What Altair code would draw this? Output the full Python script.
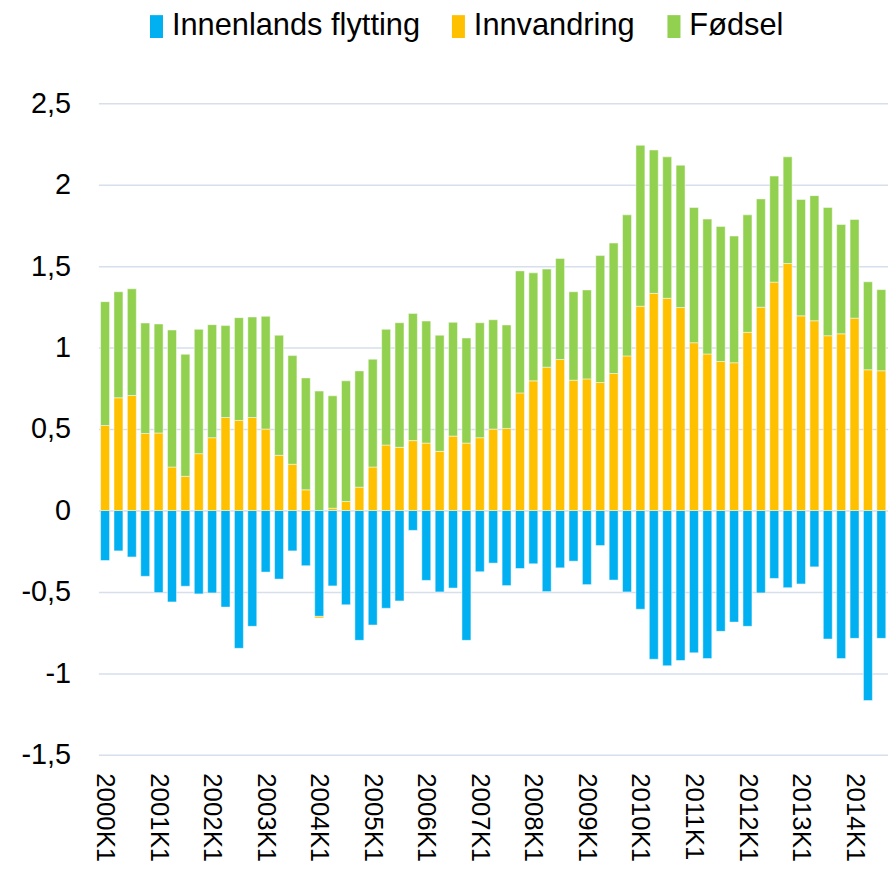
import altair as alt
import pandas as pd

quarters = [
    "2000K1", "2000K2", "2000K3", "2000K4", "2001K1", "2001K2", "2001K3", "2001K4",
    "2002K1", "2002K2", "2002K3", "2002K4", "2003K1", "2003K2", "2003K3", "2003K4",
    "2004K1", "2004K2", "2004K3", "2004K4", "2005K1", "2005K2", "2005K3", "2005K4",
    "2006K1", "2006K2", "2006K3", "2006K4", "2007K1", "2007K2", "2007K3", "2007K4",
    "2008K1", "2008K2", "2008K3", "2008K4", "2009K1", "2009K2", "2009K3", "2009K4",
    "2010K1", "2010K2", "2010K3", "2010K4", "2011K1", "2011K2", "2011K3", "2011K4",
    "2012K1", "2012K2", "2012K3", "2012K4", "2013K1", "2013K2", "2013K3", "2013K4",
    "2014K1", "2014K2", "2014K3",
]

innenlands = [
    -0.307, -0.248, -0.285, -0.404, -0.504, -0.561, -0.465, -0.512,
    -0.506, -0.593, -0.846, -0.711, -0.378, -0.421, -0.248, -0.339,
    -0.650, -0.463, -0.579, -0.797, -0.703, -0.600, -0.555, -0.122,
    -0.429, -0.500, -0.476, -0.797, -0.376, -0.323, -0.461, -0.356,
    -0.327, -0.498, -0.352, -0.311, -0.455, -0.215, -0.427, -0.500,
    -0.606, -0.913, -0.953, -0.921, -0.874, -0.909, -0.742, -0.685,
    -0.711, -0.506, -0.417, -0.474, -0.451, -0.346, -0.789, -0.909,
    -0.785, -1.167, -0.785,
]

innvandring = [
    0.522, 0.692, 0.706, 0.473, 0.476, 0.267, 0.210, 0.349,
    0.447, 0.571, 0.553, 0.571, 0.500, 0.339, 0.284, 0.127,
    -0.010, 0.014, 0.055, 0.143, 0.267, 0.402, 0.388, 0.429,
    0.414, 0.363, 0.457, 0.414, 0.447, 0.500, 0.504, 0.722,
    0.796, 0.880, 0.927, 0.800, 0.808, 0.786, 0.841, 0.949,
    1.254, 1.333, 1.303, 1.246, 1.030, 0.961, 0.915, 0.907,
    1.094, 1.248, 1.402, 1.516, 1.195, 1.165, 1.073, 1.085,
    1.181, 0.864, 0.858,
]

fodsel = [
    0.760, 0.651, 0.655, 0.678, 0.669, 0.841, 0.749, 0.763,
    0.694, 0.564, 0.631, 0.617, 0.692, 0.737, 0.667, 0.687,
    0.733, 0.690, 0.741, 0.714, 0.662, 0.710, 0.765, 0.781,
    0.749, 0.713, 0.698, 0.645, 0.706, 0.671, 0.635, 0.749,
    0.663, 0.602, 0.620, 0.543, 0.546, 0.779, 0.801, 0.866,
    0.988, 0.880, 0.868, 0.874, 0.830, 0.828, 0.829, 0.778,
    0.721, 0.665, 0.651, 0.655, 0.714, 0.768, 0.787, 0.671,
    0.606, 0.540, 0.498,
]

series = ["Innenlands flytting", "Innvandring", "Fødsel"]
colors = ["#00B0F0", "#FFC000", "#92D050"]
y_ticks = [-1.5, -1.0, -0.5, 0.0, 0.5, 1.0, 1.5, 2.0, 2.5]

rows = []
for i, q in enumerate(quarters):
    for k, (name, vals) in enumerate(zip(series, [innenlands, innvandring, fodsel])):
        rows.append({"kvartal": q, "serie": name, "verdi": vals[i], "rekkefolge": k})
df = pd.DataFrame(rows)

chart = (
    alt.Chart(df)
    .mark_bar(stroke="white", strokeWidth=0.8, strokeOpacity=0.6)
    .encode(
        x=alt.X(
            "kvartal:N",
            sort=quarters,
            scale=alt.Scale(paddingInner=0.33, paddingOuter=0.165),
            axis=alt.Axis(
                title=None,
                labelAngle=90,
                labelExpr="indexof(datum.value, 'K1') >= 0 ? datum.value : ''",
                ticks=False,
                domain=False,
                labelFontSize=26,
                labelPadding=18,
                labelColor="#000000",
                labelOverlap=False,
                labelLimit=300,
            ),
        ),
        y=alt.Y(
            "verdi:Q",
            stack="zero",
            scale=alt.Scale(domain=[-1.5, 2.5], nice=False, zero=True),
            axis=alt.Axis(
                title=None,
                values=y_ticks,
                labelExpr="replace(toString(datum.value), '.', ',')",
                grid=True,
                gridColor="#D6DFEB",
                gridWidth=1.5,
                ticks=False,
                domain=False,
                labelFontSize=29,
                labelPadding=28,
                labelColor="#000000",
            ),
        ),
        color=alt.Color(
            "serie:N",
            scale=alt.Scale(domain=series, range=colors),
            legend=alt.Legend(
                title=None,
                orient="none",
                legendX=43,
                legendY=-93,
                direction="horizontal",
                symbolType="M-0.57,-1H0.57V1H-0.57Z",
                symbolSize=529,
                symbolStrokeWidth=0,
                symbolOpacity=1,
                labelFontSize=31,
                labelOffset=0,
                labelLimit=500,
                labelColor="#000000",
                columnPadding=23,
                padding=0,
            ),
        ),
        order=alt.Order("rekkefolge:Q"),
    )
    .properties(
        width=795,
        height=656,
        autosize=alt.AutoSizeParams(type="none"),
        padding={"left": 91, "top": 93, "right": 0, "bottom": 110},
    )
    .configure(font="Liberation Sans")
    .configure_view(stroke=None)
)

chart.save("out.html", embed_options={"renderer": "svg", "actions": False})
